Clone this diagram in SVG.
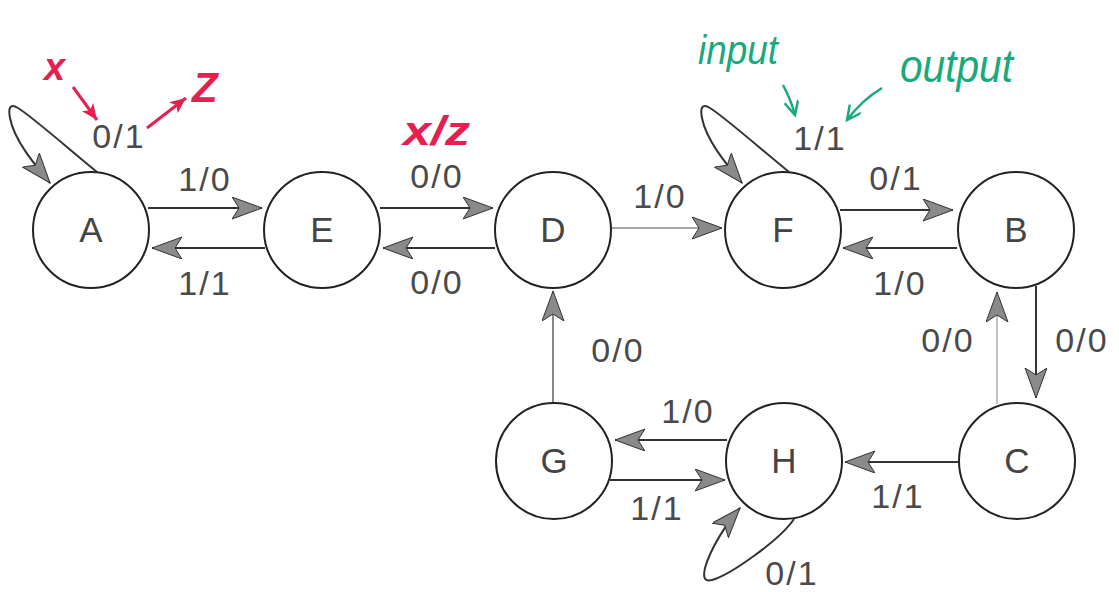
<svg xmlns="http://www.w3.org/2000/svg" width="1119" height="592" viewBox="0 0 1119 592">
<style>
.node circle{fill:#fff;stroke:#222;stroke-width:2}
.node text{font-family:"Liberation Sans",Arial,sans-serif;font-size:35px;fill:#444;text-anchor:middle}
.lbl{font-family:"Liberation Sans",Arial,sans-serif;font-size:34px;fill:#4a4a4a;text-anchor:middle;letter-spacing:2px}
.e{fill:none;stroke:#333;stroke-width:2;marker-end:url(#ah)}
.thin{stroke:#888;stroke-width:1.4}
.red{font-family:"Liberation Sans",Arial,sans-serif;fill:#e3204f;font-style:italic;font-weight:bold}
.grn{font-family:"Liberation Sans",Arial,sans-serif;fill:#1aa97b;font-style:italic}
</style>
<defs>
<marker id="ah" markerUnits="userSpaceOnUse" markerWidth="34" markerHeight="26" refX="30" refY="11" orient="auto">
<path d="M0,0 L30,11 L0,22 L7,11 Z" fill="#8a8a8a" stroke="#333" stroke-width="1"/>
</marker>
<marker id="ar" markerUnits="userSpaceOnUse" markerWidth="20" markerHeight="16" refX="16" refY="7" orient="auto">
<path d="M0,0 L16,7 L0,14 L4,7 Z" fill="#e3204f"/>
</marker>
<marker id="ag" markerUnits="userSpaceOnUse" markerWidth="20" markerHeight="16" refX="16" refY="7" orient="auto">
<path d="M2,0 L16,7 L2,14" fill="none" stroke="#1aa97b" stroke-width="2.5"/>
</marker>
</defs>
<rect width="1119" height="592" fill="#fff"/>
<g id="connectors">
<path class="e" d="M97,172 C70,150 30,115 18,108 C10,103 8,108 10,118 C14,140 35,165 50,183"/>
<path class="e" d="M789,172 C762,150 722,115 710,108 C702,103 700,108 702,118 C706,140 727,165 742,183"/>
<path class="e" d="M794,519 C780,540 730,575 712,580 C704,582 703,577 705,568 C710,550 725,525 740,508"/>
<path class="e" d="M148,208 L262,208"/>
<path class="e" d="M265,248 L152,248"/>
<path class="e" d="M380,208 L493,208"/>
<path class="e" d="M495,248 L383,248"/>
<path class="e thin" d="M611,228 L722,228"/>
<path class="e" d="M840,210 L953,210"/>
<path class="e" d="M957,248 L843,248"/>
<path class="e" d="M1036,286 L1036,398"/>
<path class="e thin" style="stroke:#999;stroke-width:1.2" d="M997,404 L997,292"/>
<path class="e" style="stroke-width:1.8" d="M958,462 L845,462"/>
<path class="e" d="M727,440 L615,440"/>
<path class="e" d="M610,480 L725,480"/>
<path class="e thin" style="stroke:#555" d="M553,403 L553,291"/>
</g>
<g id="labels">
<text class="lbl" x="119" y="148">0/1</text>
<text class="lbl" x="205" y="191">1/0</text>
<text class="lbl" x="205" y="295">1/1</text>
<text class="lbl" x="437" y="188">0/0</text>
<text class="lbl" x="437" y="294">0/0</text>
<text class="lbl" x="660" y="208">1/0</text>
<text class="lbl" x="820" y="150">1/1</text>
<text class="lbl" x="896" y="190">0/1</text>
<text class="lbl" x="900" y="295">1/0</text>
<text class="lbl" x="1082" y="352">0/0</text>
<text class="lbl" x="948" y="352">0/0</text>
<text class="lbl" x="618" y="362">0/0</text>
<text class="lbl" x="688" y="423">1/0</text>
<text class="lbl" x="657" y="520">1/1</text>
<text class="lbl" x="898" y="508">1/1</text>
<text class="lbl" x="792" y="585">0/1</text>
</g>
<g id="node-A" class="node"><circle cx="91" cy="230" r="58"/><text x="91" y="242">A</text></g>
<g id="node-E" class="node"><circle cx="322" cy="230" r="58"/><text x="322" y="242">E</text></g>
<g id="node-D" class="node"><circle cx="553" cy="230" r="58"/><text x="553" y="242">D</text></g>
<g id="node-F" class="node"><circle cx="783" cy="230" r="58"/><text x="783" y="242">F</text></g>
<g id="node-B" class="node"><circle cx="1016" cy="230" r="58"/><text x="1016" y="242">B</text></g>
<g id="node-G" class="node"><circle cx="554" cy="461" r="58"/><text x="554" y="473">G</text></g>
<g id="node-H" class="node"><circle cx="784" cy="461" r="58"/><text x="784" y="473">H</text></g>
<g id="node-C" class="node"><circle cx="1017" cy="461" r="58"/><text x="1017" y="473">C</text></g>
<g id="annotations">
<text class="red" x="44" y="80" font-size="38">x</text>
<path d="M73,87 L97,120" fill="none" stroke="#e3204f" stroke-width="3" marker-end="url(#ar)"/>
<path d="M147,128 L186,98" fill="none" stroke="#e3204f" stroke-width="3" marker-end="url(#ar)"/>
<text class="red" x="192" y="102" font-size="42" font-style="normal">Z</text>
<text class="red" x="403" y="145" font-size="40" textLength="67" lengthAdjust="spacingAndGlyphs">x/z</text>
<text class="grn" x="698" y="64" font-size="40" textLength="80" lengthAdjust="spacingAndGlyphs">input</text>
<text class="grn" x="900" y="82" font-size="46" textLength="113" lengthAdjust="spacingAndGlyphs">output</text>
<path d="M783,85 Q791,100 795,115" fill="none" stroke="#1aa97b" stroke-width="2.5" marker-end="url(#ag)"/>
<path d="M882,88 Q862,100 847,120" fill="none" stroke="#1aa97b" stroke-width="2.5" marker-end="url(#ag)"/>
</g>
</svg>
